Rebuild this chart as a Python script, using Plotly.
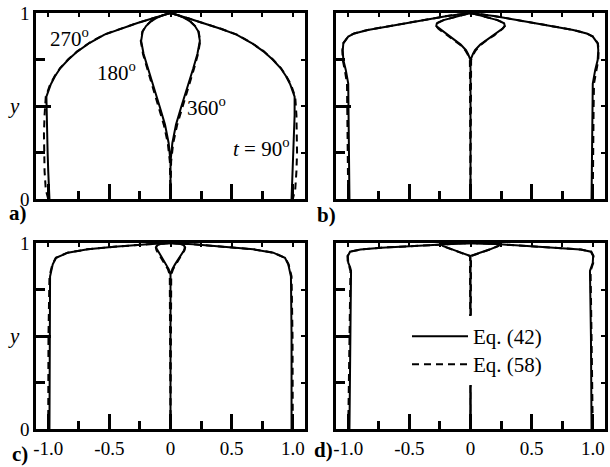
import plotly.graph_objects as go

# ---------------- data (right half of each symmetric curve; y levels and x values) ----------------
# Panel a
A_OUT_Y = [0.0, 0.05, 0.15, 0.25, 0.35, 0.45, 0.55, 0.615, 0.66, 0.704, 0.75, 0.794, 0.84, 0.884, 0.915, 0.946, 0.97, 1.0]
A_OUT_X_EQ42 = [0.99, 0.995, 1.0, 1.005, 1.01, 1.015, 1.015, 0.98, 0.945, 0.90, 0.835, 0.76, 0.66, 0.54, 0.41, 0.27, 0.15, 0.0]
A_OUT_X_EQ58 = [1.0, 1.02, 1.03, 1.035, 1.035, 1.03, 1.02, 0.985, 0.948, 0.903, 0.838, 0.763, 0.663, 0.543, 0.413, 0.272, 0.151, 0.0]
A_IN_Y = [0.0, 0.2, 0.3, 0.4, 0.5, 0.6, 0.7, 0.78, 0.85, 0.9, 0.93, 0.955, 0.975, 0.99, 1.0]
A_IN_X_EQ42 = [0.0, 0.0, 0.015, 0.045, 0.09, 0.135, 0.185, 0.22, 0.24, 0.228, 0.2, 0.16, 0.11, 0.055, 0.0]
A_IN_X_EQ58 = [0.0, 0.005, 0.022, 0.055, 0.1, 0.145, 0.192, 0.225, 0.243, 0.23, 0.202, 0.161, 0.11, 0.055, 0.0]

# Panel b
B_OUT_Y = [0.0, 0.2, 0.35, 0.5, 0.62, 0.694, 0.747, 0.8, 0.837, 0.873, 0.89, 0.909, 0.935, 0.962, 0.984, 1.0]
B_OUT_X_EQ42 = [0.99, 0.993, 0.996, 0.998, 1.0, 1.02, 1.04, 1.045, 1.04, 1.0, 0.95, 0.84, 0.62, 0.38, 0.19, 0.0]
B_OUT_X_EQ58 = [1.0, 1.003, 1.005, 1.007, 1.01, 1.028, 1.045, 1.048, 1.042, 1.002, 0.952, 0.842, 0.622, 0.381, 0.19, 0.0]
B_IN_Y = [0.0, 0.747, 0.78, 0.80, 0.83, 0.855, 0.88, 0.90, 0.915, 0.93, 0.945, 0.962, 0.98, 0.99, 1.0]
B_IN_X_EQ42 = [0.0, 0.0, 0.02, 0.037, 0.08, 0.13, 0.19, 0.23, 0.26, 0.28, 0.275, 0.22, 0.12, 0.06, 0.0]
B_IN_X_EQ58 = [0.0, 0.005, 0.025, 0.043, 0.086, 0.135, 0.194, 0.233, 0.262, 0.281, 0.276, 0.221, 0.12, 0.06, 0.0]

# Panel c
C_OUT_Y = [0.0, 0.5, 0.82, 0.85, 0.885, 0.92, 0.948, 0.966, 0.98, 0.993, 1.0]
C_OUT_X_EQ42 = [0.99, 0.99, 0.985, 0.975, 0.963, 0.936, 0.84, 0.677, 0.46, 0.187, 0.0]
C_OUT_X_EQ58 = [1.0, 0.998, 0.99, 0.98, 0.966, 0.938, 0.842, 0.678, 0.46, 0.187, 0.0]
C_IN_Y = [0.0, 0.83, 0.86, 0.885, 0.93, 0.96, 0.975, 0.987, 0.996, 1.0]
C_IN_X_EQ42 = [0.0, 0.0, 0.015, 0.037, 0.078, 0.11, 0.118, 0.11, 0.078, 0.0]
C_IN_X_EQ58 = [0.0, 0.006, 0.022, 0.045, 0.085, 0.114, 0.12, 0.11, 0.078, 0.0]

# Panel d
D_OUT_Y = [0.0, 0.5, 0.85, 0.87, 0.894, 0.93, 0.953, 0.965, 0.975, 0.984, 0.993, 1.0]
D_OUT_X_EQ42 = [0.99, 0.985, 0.977, 0.985, 1.0, 1.003, 0.985, 0.9, 0.73, 0.46, 0.24, 0.0]
D_OUT_X_EQ58 = [1.0, 0.99, 0.982, 0.99, 1.004, 1.006, 0.988, 0.902, 0.731, 0.46, 0.24, 0.0]
D_IN_Y = [0.0, 0.93, 0.948, 0.966, 0.984, 0.996, 1.0]
D_IN_X_EQ42 = [0.0, 0.0, 0.078, 0.16, 0.227, 0.24, 0.0]
D_IN_X_EQ58 = [0.0, 0.004, 0.082, 0.163, 0.229, 0.241, 0.0]

X_TICKVALS = [-1.0, -0.5, 0.0, 0.5, 1.0]
X_TICKTEXT = ["-1.0", "-0.5", "0", "0.5", "1.0"]
X_MINOR = [-0.75, -0.25, 0.25, 0.75]
Y_TICKVALS = [0.0, 0.5, 1.0]
Y_TICKTEXT = ["0", " ", "1"]
Y_MINOR = [0.25, 0.75]
SERIES_NAMES = ["Eq. (42)", "Eq. (58)"]
PANEL_LABELS = ["a)", "b)", "c)", "d)"]
ANGLE_LABELS = ["270", "180", "360", "90"]

PANELS = [
    (A_OUT_Y, A_OUT_X_EQ42, A_OUT_X_EQ58, A_IN_Y, A_IN_X_EQ42, A_IN_X_EQ58),
    (B_OUT_Y, B_OUT_X_EQ42, B_OUT_X_EQ58, B_IN_Y, B_IN_X_EQ42, B_IN_X_EQ58),
    (C_OUT_Y, C_OUT_X_EQ42, C_OUT_X_EQ58, C_IN_Y, C_IN_X_EQ42, C_IN_X_EQ58),
    (D_OUT_Y, D_OUT_X_EQ42, D_OUT_X_EQ58, D_IN_Y, D_IN_X_EQ42, D_IN_X_EQ58),
]


def mirror(xs, ys):
    """Symmetric closed curve from its right half (left half goes up, right half comes down)."""
    X = [-v for v in xs] + list(reversed(xs))[1:]
    Y = list(ys) + list(reversed(ys))[1:]
    return X, Y


W, H = 610, 467
FONT = "Liberation Serif, Times New Roman, DejaVu Serif, serif"
# subplot boxes in pixels (left, right, top, bottom)
BOXES = [(36, 305, 13, 199), (336, 605, 13, 199), (36, 305, 243, 429), (336, 605, 243, 429)]
# Eq. (42) goes in the legend drawn last (on top), Eq. (58) in the one below it
LEGEND_IDS = ["legend2", "legend"]

fig = go.Figure()
for i, (oy, ox42, ox58, iy, ix42, ix58) in enumerate(PANELS):
    xa = "x" if i == 0 else f"x{i+1}"
    ya = "y" if i == 0 else f"y{i+1}"
    for k, (ox, ix) in enumerate([(ox42, ix42), (ox58, ix58)]):
        X1, Y1 = mirror(ox, oy)
        X2, Y2 = mirror(ix, iy)
        fig.add_trace(go.Scatter(
            x=X1 + [None] + X2, y=Y1 + [None] + Y2, mode="lines",
            line=dict(color="black", width=2, dash="solid" if k == 0 else "7px,5px"),
            name=SERIES_NAMES[k], showlegend=(i == 0), legend=LEGEND_IDS[k],
            xaxis=xa, yaxis=ya, hoverinfo="skip"))
    # empty traces that bring the mirrored (top / right) tick axes to life
    fig.add_trace(go.Scatter(x=[None], y=[None], xaxis=f"x{5+i}", yaxis=ya,
                             showlegend=False, hoverinfo="skip"))
    fig.add_trace(go.Scatter(x=[None], y=[None], xaxis=xa, yaxis=f"y{5+i}",
                             showlegend=False, hoverinfo="skip"))

layout = {}
for i, (l, r, t, b) in enumerate(BOXES):
    sx = "" if i == 0 else str(i + 1)
    layout["xaxis" + sx] = dict(
        domain=[l / W, r / W], anchor="y" + sx, range=[-1.1, 1.1],
        showline=True, linewidth=2.5, linecolor="black", mirror=True,
        showgrid=False, zeroline=False, ticks="inside", ticklen=15, tickwidth=2.5,
        tickcolor="black", tickmode="array", tickvals=X_TICKVALS,
        ticktext=X_TICKTEXT, showticklabels=(i >= 2),
        tickfont=dict(family=FONT, size=19, color="black"),
        minor=dict(ticks="inside", ticklen=8, tickwidth=2.5, tickcolor="black",
                   tickvals=X_MINOR),
        automargin=False, fixedrange=True)
    layout["yaxis" + sx] = dict(
        domain=[1 - b / H, 1 - t / H], anchor="x" + sx, range=[0, 1],
        showline=True, linewidth=2.5, linecolor="black", mirror=True,
        showgrid=False, zeroline=False, ticks="inside", ticklen=15, tickwidth=2.5,
        tickcolor="black", tickmode="array", tickvals=Y_TICKVALS,
        ticktext=Y_TICKTEXT, showticklabels=(i % 2 == 0),
        tickfont=dict(family=FONT, size=19, color="black"),
        minor=dict(ticks="inside", ticklen=9, tickwidth=2.5, tickcolor="black",
                   tickvals=Y_MINOR),
        automargin=False, fixedrange=True)
    # small mirrored ticks on the top and right frame
    layout[f"xaxis{5+i}"] = dict(
        overlaying="x" + sx, side="top", anchor="y" + sx, range=[-1.1, 1.1],
        showline=False, showgrid=False, zeroline=False, ticks="inside",
        ticklen=4, tickwidth=2, tickcolor="black", tickmode="array",
        tickvals=X_TICKVALS + X_MINOR, showticklabels=False, fixedrange=True)
    layout[f"yaxis{5+i}"] = dict(
        overlaying="y" + sx, side="right", anchor="x" + sx, range=[0, 1],
        showline=False, showgrid=False, zeroline=False, ticks="inside",
        ticklen=4, tickwidth=2, tickcolor="black", tickmode="array",
        tickvals=Y_TICKVALS + Y_MINOR, showticklabels=False, fixedrange=True)


def ann(text, px, py, size=21, **kw):
    return dict(text=text, x=px / W, y=1 - py / H, xref="paper", yref="paper",
                xanchor="center", yanchor="middle", showarrow=False,
                font=dict(family=FONT, size=size, color="black"), **kw)


annotations = [
    ann(ANGLE_LABELS[0] + "<sup>o</sup>", 69, 37),
    ann(ANGLE_LABELS[1] + "<sup>o</sup>", 116, 71),
    ann(ANGLE_LABELS[2] + "<sup>o</sup>", 206, 107),
    ann("<i>t</i> = " + ANGLE_LABELS[3] + "<sup>o</sup>", 261, 148),
    ann("<i>y</i>", 14, 106),
    ann("<i>y</i>", 14, 336),
    ann("<b>" + PANEL_LABELS[0] + "</b>", 18, 213),
    ann("<b>" + PANEL_LABELS[1] + "</b>", 326, 215),
    ann("<b>" + PANEL_LABELS[2] + "</b>", 20, 454),
    ann("<b>" + PANEL_LABELS[3] + "</b>", 323, 450),
]


def legend_box(top_px):
    return dict(x=407 / W, y=1 - top_px / H, xanchor="left", yanchor="top",
                bgcolor="white", borderwidth=0, itemwidth=56,
                font=dict(family=FONT, size=21, color="black"))


fig.update_layout(
    width=W, height=H, margin=dict(l=0, r=0, t=0, b=0),
    paper_bgcolor="white", plot_bgcolor="white",
    font=dict(family=FONT, color="black"),
    showlegend=True,
    legend2=legend_box(316),
    legend=legend_box(344),
    annotations=annotations,
    **layout)

fig.write_html("out.html", config={"displayModeBar": False},
               post_script="document.body.style.margin='0';document.body.style.padding='0';")
